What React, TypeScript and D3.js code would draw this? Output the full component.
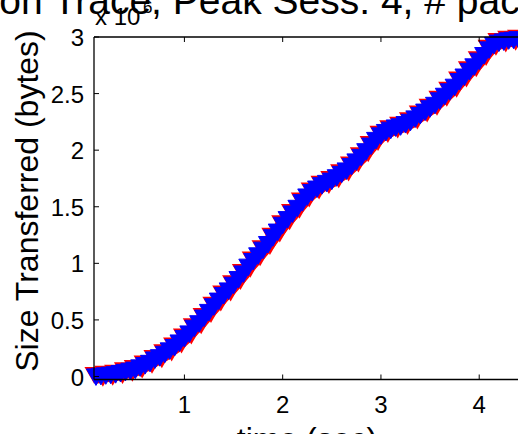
import React from "react";
import * as d3 from "d3";

const titleText = "Session Trace, Peak Sess: 4, # packets";
const xLabel = "time (sec)";
const yLabel = "Size Transferred (bytes)";
const xTicks = [1, 2, 3, 4];
const yTicks = [0, 0.5, 1, 1.5, 2, 2.5, 3];
const yTickLabels = ["0", "0.5", "1", "1.5", "2", "2.5", "3"];

const times = [
  0.1, 0.15, 0.2, 0.25, 0.3, 0.35, 0.4, 0.45, 0.5, 0.55, 0.6, 0.65, 0.7, 0.75, 0.8, 0.85, 0.9, 0.95,
  1.0, 1.05, 1.1, 1.15, 1.2, 1.25, 1.3, 1.35, 1.4, 1.45, 1.5, 1.55, 1.6, 1.65, 1.7, 1.75, 1.8, 1.85,
  1.9, 1.95, 2.0, 2.05, 2.1, 2.15, 2.2, 2.25, 2.3, 2.35, 2.4, 2.45, 2.5, 2.55, 2.6, 2.65, 2.7, 2.75,
  2.8, 2.85, 2.9, 2.95, 3.0, 3.05, 3.1, 3.15, 3.2, 3.25, 3.3, 3.35, 3.4, 3.45, 3.5, 3.55, 3.6, 3.65,
  3.7, 3.75, 3.8, 3.85, 3.9, 3.95, 4.0, 4.05, 4.1, 4.15, 4.2, 4.25, 4.3, 4.35, 4.4,
];
// bytes, in units of 1e6
const sizes = [
  0.0, 0.005, 0.01, 0.015, 0.02, 0.03, 0.04, 0.05, 0.06, 0.08, 0.1, 0.12, 0.15, 0.17, 0.2, 0.23, 0.26, 0.3,
  0.34, 0.38, 0.43, 0.47, 0.52, 0.57, 0.62, 0.67, 0.72, 0.76, 0.81, 0.86, 0.91, 0.97, 1.02, 1.07, 1.12, 1.17,
  1.23, 1.28, 1.34, 1.39, 1.44, 1.49, 1.54, 1.59, 1.63, 1.66, 1.69, 1.71, 1.73, 1.76, 1.79, 1.82, 1.86, 1.9,
  1.94, 1.99, 2.04, 2.09, 2.13, 2.16, 2.18, 2.2, 2.21, 2.23, 2.25, 2.28, 2.31, 2.34, 2.37, 2.4, 2.44, 2.48,
  2.52, 2.56, 2.61, 2.65, 2.7, 2.74, 2.79, 2.84, 2.89, 2.93, 2.95, 2.96, 2.97, 2.975, 2.98,
];

const W = 518;
const H = 434;
const left = 94;
const right = 520;
const top = 37;
const bottom = 379.5;
const font = "'Liberation Sans', Arial, Helvetica, sans-serif";

export default function App() {
  const x = d3.scaleLinear().domain([0.08, 4.415]).range([left, right]);
  const y = d3.scaleLinear().domain([-0.0265, 3]).range([bottom, top]);
  const pts = times.map((t, i) => [x(t), y(sizes[i])] as [number, number]);
  const line = d3.line()(pts) || "";
  const tri = (cx: number, cy: number, s: number) =>
    `M${cx - s / 2},${cy - s * 0.4}L${cx + s / 2},${cy - s * 0.4}L${cx},${cy + s * 0.47}Z`;
  const tickLen = 5;
  return (
    <svg width={W} height={H} style={{ position: "absolute", left: 0, top: 0, background: "#fff" }} fontFamily={font}>
      <rect x={0} y={0} width={W} height={H} fill="#fff" />
      <path d={line} fill="none" stroke="#ff0000" strokeWidth={14} strokeLinejoin="round" />
      {pts.map((p, i) => (
        <path
          key={"r" + i}
          d={tri(p[0] + (i % 2 ? 2 : -2), p[1] + (i % 2 ? 2 : -2), 19)}
          fill="#ff0000"
        />
      ))}
      {pts.map((p, i) => (
        <path key={"b" + i} d={tri(p[0], p[1], 19)} fill="#0000ff" stroke="#0000ff" strokeWidth={1} />
      ))}
      {/* axes box */}
      <line x1={left} x2={right} y1={bottom} y2={bottom} stroke="#000" strokeWidth={1.3} />
      <line x1={left} x2={right} y1={top} y2={top} stroke="#000" strokeWidth={1.3} />
      <line x1={left} x2={left} y1={top} y2={bottom} stroke="#000" strokeWidth={1.3} />
      {xTicks.map((t) => (
        <g key={"xt" + t}>
          <line x1={x(t)} x2={x(t)} y1={bottom} y2={bottom - tickLen} stroke="#000" strokeWidth={1} />
          <line x1={x(t)} x2={x(t)} y1={top} y2={top + tickLen} stroke="#000" strokeWidth={1} />
          <text x={x(t)} y={413} fontSize={24} textAnchor="middle" fill="#000">
            {t}
          </text>
        </g>
      ))}
      {yTicks.map((t, i) => (
        <g key={"yt" + t}>
          <line x1={left} x2={left + tickLen} y1={y(t)} y2={y(t)} stroke="#000" strokeWidth={1} />
          <text x={84} y={y(t) + 9} fontSize={24} textAnchor="end" fill="#000">
            {yTickLabels[i]}
          </text>
        </g>
      ))}
      <text x={95} y={25} fontSize={24} fill="#000">
        x 10
      </text>
      <text x={143} y={13} fontSize={17} fill="#000">
        6
      </text>
      <text x={-96} y={13.5} fontSize={39} fill="#000">
        {titleText}
      </text>
      <text
        transform={`translate(38,201) rotate(-90)`}
        fontSize={32}
        textAnchor="middle"
        fill="#000"
      >
        {yLabel}
      </text>
      <text x={307} y={450} fontSize={32} textAnchor="middle" fill="#000">
        {xLabel}
      </text>
    </svg>
  );
}
